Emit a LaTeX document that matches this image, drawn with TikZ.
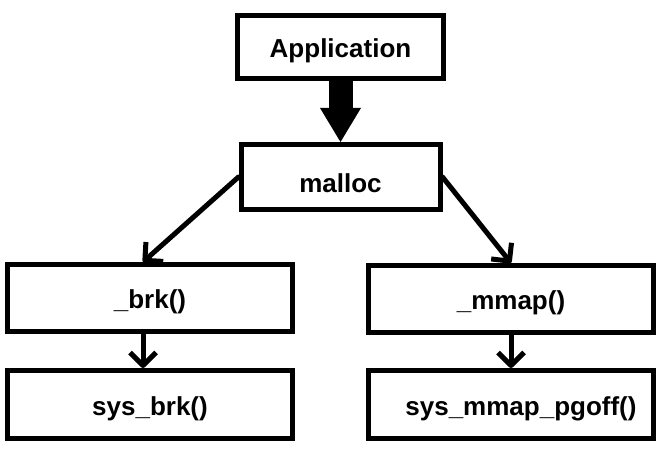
\documentclass[tikz,border=0pt]{standalone}
\usepackage{fontspec}
\setmainfont{Liberation Sans}
\usetikzlibrary{positioning,arrows.meta}

\begin{document}
\begin{tikzpicture}[x=1pt, y=-1pt,
    box/.style={draw, line width=5pt, minimum width=285pt, minimum height=67pt,
        font=\fontsize{26}{31}\selectfont\bfseries, text height=22pt, text depth=0pt},
    call/.style={line width=5pt, line cap=round,
        -{Straight Barb[width=26pt,length=13pt,line join=round]}},
    bigarrow/.style={line width=24pt, -{Triangle[width=41pt,length=34pt,line width=0pt]}}]

    \useasboundingbox (0,0) rectangle (667,454);

    \node [box, minimum width=206pt, minimum height=63pt] (app) at (340.5,47) {Application};
    \node [box, minimum width=199pt, minimum height=65pt, text height=32pt, below=61pt of app] (malloc) {malloc};

    % brk side
    \node [box] (brk) at (150,298) {\_brk()};
    \node [box, minimum height=68pt, below=34pt of brk] (sysbrk) {sys\_brk()};

    % mmap side
    \node [box] (mmap) at (511,299) {\_mmap()};
    \node [box, minimum height=68pt, below=33pt of mmap] (sysmmap) {\hspace*{20pt}sys\_mmap\_pgoff()};

    \draw [bigarrow] (app) -- (malloc);

    \draw [call] (malloc.west) -- ([xshift=-7pt]brk.north);
    \draw [call] (malloc.east) -- (mmap.north);

    \draw [call] ([xshift=-7pt]brk.south) -- ([xshift=-7pt]sysbrk.north);
    \draw [call] (mmap) -- (sysmmap);
\end{tikzpicture}
\end{document}
